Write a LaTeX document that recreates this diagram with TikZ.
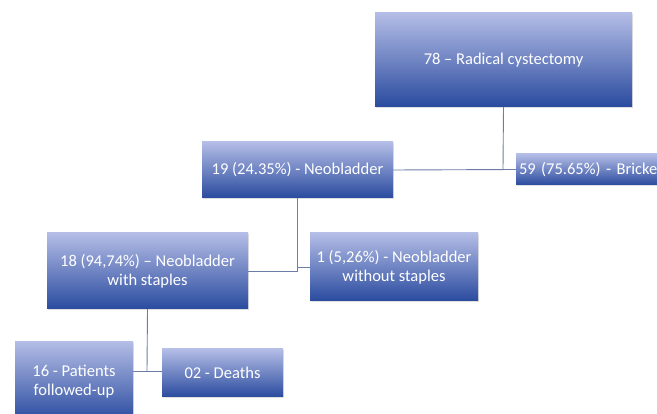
\documentclass[tikz,border=0pt]{standalone}
\usepackage{fontspec}
\setmainfont{Carlito}
\usetikzlibrary{shadows}
\definecolor{boxtop}{HTML}{B4BDE6}
\definecolor{boxbot}{HTML}{2A4B9F}
\definecolor{linec}{HTML}{6E7DA6}
\tikzset{
  gbox/.style={rectangle, inner sep=2pt, text=white, align=center,
    font=\fontsize{16.5}{19}\selectfont,
    top color=boxtop, bottom color=boxbot, draw=none,
    drop shadow={opacity=0.25, shadow xshift=1.2pt, shadow yshift=-1.5pt}},
  conn/.style={draw=linec, line width=0.9pt}
}
\begin{document}
\begin{tikzpicture}[x=1pt,y=-1pt]
\useasboundingbox (0,0) rectangle (657,414);
\clip (0,0) rectangle (657,414);
\fill[white] (0,0) rectangle (657,414);
\node[gbox, minimum width=257pt, minimum height=94pt] (b1) at (503.5,60) {78 – Radical cystectomy};
\node[gbox, minimum width=191pt, minimum height=56pt] (b2) at (297.5,170) {19 (24.35\%) - Neobladder};
\node[gbox, minimum width=200pt, minimum height=31pt, text width=194pt, align=left, inner xsep=3pt] (b3) at (616,169.5) {59 (75.65\%) - Bricker};
\node[gbox, minimum width=201pt, minimum height=76pt] (b4) at (147.5,271) {18 (94,74\%) – Neobladder\\with staples};
\node[gbox, minimum width=168pt, minimum height=68pt] (b5) at (394,267) {1 (5,26\%) - Neobladder\\without staples};
\node[gbox, minimum width=118pt, minimum height=80pt, anchor=north] (b6) at (74,341) {16 - Patients\\followed-up};
\node[gbox, minimum width=121pt, minimum height=48pt] (b7) at (222.5,373) {02 - Deaths};
\coordinate (j1) at (503,169.5);
\coordinate (j3) at (147,371);
\draw[conn] (b1.south) -- (j1);
\draw[conn] (b2.east) -- (b3.west);
\draw[conn] (b4.east) -| (b2.south);
\draw[conn] (b5.west) -| (b2.south);
\draw[conn] (b4.south) -- (j3);
\draw[conn] (j3 -| b6.east) -- (j3 -| b7.west);
\end{tikzpicture}
\end{document}
